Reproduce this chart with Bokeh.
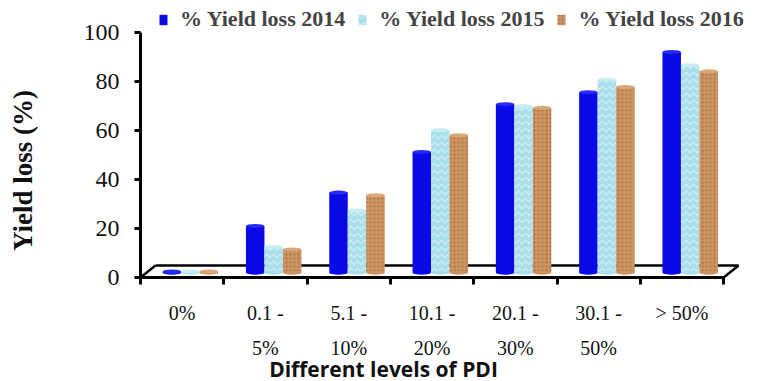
from math import pi

from bokeh.plotting import figure
from bokeh.models import Range1d, FixedTicker, Legend, LegendItem, Label
from bokeh.embed import file_html
from bokeh.resources import INLINE

# ---- data -------------------------------------------------------------
levels = ["0%", "0.1 -\n5%", "5.1 -\n10%", "10.1 -\n20%",
          "20.1 -\n30%", "30.1 -\n50%", "> 50%"]
loss_2014 = [0.5, 19.1, 32.7, 49.3, 68.8, 73.7, 90.1]
loss_2015 = [0.5, 10.5, 25.4, 58.2, 68.0, 78.9, 84.7]
loss_2016 = [0.5, 9.5, 31.6, 56.1, 67.3, 75.8, 82.2]
series_names = ["% Yield loss 2014", "% Yield loss 2015", "% Yield loss 2016"]
y_ticks = [0, 20, 40, 60, 80, 100]

# ---- layout constants (pixels) -----------------------------------------
W, H = 757, 381
ORIGIN_X, ORIGIN_Y = 140, 277                      # where the axes cross
CAT_PX = 83.3                                      # width of one category
Y_PX = 2.45                                        # pixels per percent
DEPTH_X, DEPTH_Y = 15, 12                          # floor depth (3-D look)
BAR_PX = 18.5

n = len(levels)
x0, x1 = -ORIGIN_X / CAT_PX, (W - ORIGIN_X) / CAT_PX
y0, y1 = -(H - ORIGIN_Y) / Y_PX, ORIGIN_Y / Y_PX

# the frame fills the whole canvas; axes are pinned at the origin
p = figure(width=W, height=H, output_backend="svg", toolbar_location=None,
           x_range=Range1d(x0, x1), y_range=Range1d(y0, y1),
           min_border=0, min_border_left=0, min_border_right=0,
           min_border_top=0, min_border_bottom=0)
p.outline_line_color = None
p.grid.visible = False
p.background_fill_color = "white"
p.border_fill_color = "white"

# bars sit part way into the floor depth
mid_dx = 0.55 * DEPTH_X / CAT_PX
mid_dy = 0.4 * DEPTH_Y / Y_PX
p.extra_x_ranges = {"mid": Range1d(x0 - mid_dx, x1 - mid_dx)}
p.extra_y_ranges = {"mid": Range1d(y0 - mid_dy, y1 - mid_dy)}

# ---- axes --------------------------------------------------------------
xa = p.xaxis[0]
xa.fixed_location = 0
xa.ticker = FixedTicker(ticks=[i + 0.5 for i in range(n)],
                        minor_ticks=list(range(n + 1)))
xa.major_label_overrides = {i + 0.5: levels[i] for i in range(n)}
xa.bounds = (0, n)
xa.axis_line_width = 3
xa.major_tick_in = 0
xa.major_tick_out = 0
xa.minor_tick_in = 0
xa.minor_tick_out = 7
xa.minor_tick_line_width = 3
xa.minor_tick_line_color = "black"
xa.major_label_standoff = 17
xa.major_label_text_font = "Liberation Serif"
xa.major_label_text_font_size = "20px"
xa.major_label_text_color = "#111111"
xa.major_label_text_line_height = 1.6

ya = p.yaxis[0]
ya.fixed_location = 0
ya.ticker = FixedTicker(ticks=y_ticks)
ya.bounds = (0, 100)
ya.axis_line_width = 3
ya.major_tick_in = 0
ya.major_tick_out = 6
ya.major_tick_line_width = 3
ya.minor_tick_in = 0
ya.minor_tick_out = 0
ya.major_label_standoff = 15
ya.major_label_text_font = "Liberation Serif"
ya.major_label_text_font_size = "24px"
ya.major_label_text_color = "#111111"

# ---- floor of the 3-D box ----------------------------------------------
fdx = DEPTH_X / CAT_PX
fdy = DEPTH_Y / Y_PX
floor_style = dict(line_color="black", line_width=2.5)
p.line([fdx, n + fdx], [fdy, fdy], **floor_style)
p.line([0, fdx], [0, fdy], **floor_style)
p.line([n, n + fdx], [0, fdy], **floor_style)

# ---- bars (cylinders) --------------------------------------------------
bw = BAR_PX / CAT_PX
fills = ["#0a0ae8", "#a9dfea", "#cc9462"]
caps = ["#2a2af5", "#c8eef4", "#d9a878"]
hatches = [dict(),
           dict(hatch_pattern="horizontal_wave", hatch_color="#ffffff",
                hatch_alpha=0.55, hatch_scale=7, hatch_weight=1.2),
           dict(hatch_pattern="dot", hatch_color="#8a5527",
                hatch_alpha=0.55, hatch_scale=4, hatch_weight=1.2)]
legend_items = []
for j, vals in enumerate([loss_2014, loss_2015, loss_2016]):
    xs = [i + 0.5 + (j - 1) * bw for i in range(n)]
    r = p.vbar(x=xs, top=vals, bottom=0, width=bw,
               fill_color=fills[j], line_color=None,
               x_range_name="mid", y_range_name="mid", **hatches[j])
    p.ellipse(x=xs, y=[0] * n, width=bw, height=4, height_units="screen",
              fill_color=fills[j], line_color=None,
              x_range_name="mid", y_range_name="mid")
    p.ellipse(x=xs, y=vals, width=bw, height=4, height_units="screen",
              fill_color=caps[j], line_color=None,
              x_range_name="mid", y_range_name="mid")
    legend_items.append(LegendItem(label=series_names[j], renderers=[r]))

legend = Legend(items=legend_items, orientation="horizontal",
                location=(158, H - 32), glyph_width=10, glyph_height=13,
                label_standoff=12, spacing=12, padding=0, margin=0,
                border_line_alpha=0, background_fill_alpha=0,
                label_text_font="Liberation Serif",
                label_text_font_style="bold",
                label_text_font_size="22px")
p.add_layout(legend, "center")

# ---- axis titles -------------------------------------------------------
p.add_layout(Label(x=22, y=H - 170, x_units="screen", y_units="screen",
                   text="Yield loss (%)", angle=pi / 2,
                   text_align="center", text_baseline="middle",
                   text_font="Liberation Serif", text_font_style="bold",
                   text_font_size="27px", text_color="#111111"))
p.add_layout(Label(x=383, y=H - 368, x_units="screen", y_units="screen",
                   text="Different levels of PDI",
                   text_align="center", text_baseline="middle",
                   text_font="Open Sans", text_font_style="bold",
                   text_font_size="21px", text_color="#111111"))

open("out.html", "w").write(file_html(p, INLINE))
